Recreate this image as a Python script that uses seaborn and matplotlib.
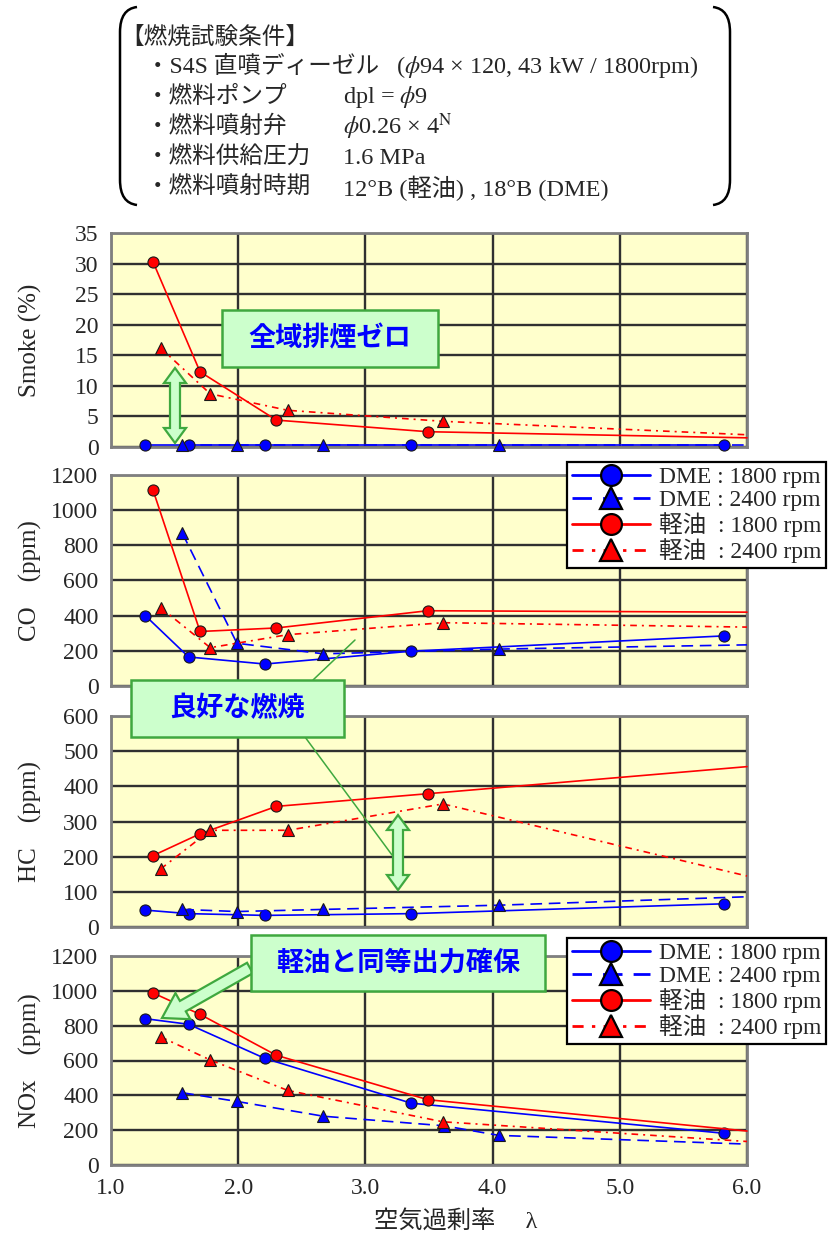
import matplotlib
matplotlib.use("Agg")
import matplotlib.pyplot as plt
import matplotlib.transforms as mtransforms
from matplotlib.patches import Rectangle, Polygon, FancyArrow, PathPatch
from matplotlib.path import Path
from matplotlib.lines import Line2D
import seaborn as sns

sns.set_theme(style="white")
plt.rcParams["font.family"] = ["Liberation Serif", "Noto Sans CJK JP"]
plt.rcParams["mathtext.fontset"] = "stix"
plt.rcParams["axes.unicode_minus"] = False

# ---- data: excess air ratio λ per series (a trailing unmarked entry is the line end) ----
LAM_DME_1800 = [1.27, 1.61, 2.21, 3.36, 5.82]
LAM_DME_2400 = [1.56, 1.99, 2.67, 4.05, 6.00]
LAM_DME_2400_NOX = [1.56, 1.99, 2.67, 3.62, 4.05, 6.00]
LAM_OIL_1800 = [1.33, 1.70, 2.30, 3.49, 6.00]
LAM_OIL_2400 = [1.39, 1.78, 2.39, 3.61, 6.00]

SMOKE_DME_1800 = [0.3, 0.3, 0.3, 0.3, 0.3]
SMOKE_DME_2400 = [0.3, 0.3, 0.3, 0.3, 0.3]
SMOKE_OIL_1800 = [30.3, 12.3, 4.4, 2.5, 1.5]
SMOKE_OIL_2400 = [16.2, 8.7, 6.0, 4.2, 2.0]

CO_DME_1800 = [400, 165, 125, 198, 285]
CO_DME_2400 = [870, 243, 183, 210, 234]
CO_OIL_1800 = [1115, 310, 330, 428, 420]
CO_OIL_2400 = [446, 218, 292, 360, 335]

HC_DME_1800 = [48, 38, 33, 38, 66]
HC_DME_2400 = [50, 44, 50, 62, 86]
HC_OIL_1800 = [203, 265, 343, 379, 456]
HC_OIL_2400 = [165, 275, 275, 350, 145]

NOX_DME_1800 = [840, 808, 612, 355, 182]
NOX_DME_2400 = [415, 365, 280, 225, 170, 120]
NOX_OIL_1800 = [988, 865, 630, 375, 195]
NOX_OIL_2400 = [736, 603, 428, 248, 135]

PANEL_LABELS = ["Smoke (%)", "CO\u3000(ppm)", "HC\u3000(ppm)", "NOx\u3000(ppm)"]
PANEL_YMAX = [35, 1200, 600, 1200]
PANEL_YSTEP = [5, 200, 100, 200]
X_TICKS = [1.0, 2.0, 3.0, 4.0, 5.0, 6.0]
X_TICK_LABELS = ["1.0", "2.0", "3.0", "4.0", "5.0", "6.0"]
LEGEND_LABELS = ["DME : 1800 rpm", "DME : 2400 rpm", "軽油  : 1800 rpm", "軽油  : 2400 rpm"]

CONDITIONS = [
    ("・S4S 直噴ディーゼル", r"($\phi$94 × 120, 43 kW / 1800rpm)"),
    ("・燃料ポンプ", r"dpl = $\phi$9"),
    ("・燃料噴射弁", r"$\phi$0.26 × 4$^{\rm N}$"),
    ("・燃料供給圧力", "1.6 MPa"),
    ("・燃料噴射時期", "12°B (軽油) , 18°B (DME)"),
]

W, H = 837, 1233
fig = plt.figure(figsize=(W / 100, H / 100), dpi=100)
fig.patch.set_facecolor("white")
# pixel coordinates measured from the top-left corner
px = mtransforms.Affine2D().scale(1 / W, -1 / H).translate(0, 1) + fig.transFigure

BLUE = "#0000FF"
RED = "#FF0000"
GREEN_FILL = "#CCFFCC"
GREEN_EDGE = "#3FA83F"
DASH_BLUE = (0, (7, 4))
DASH_RED = (0, (4, 3, 1.2, 3))

AX_LEFT, AX_RIGHT = 111, 747
PANEL_ROWS = [(233, 447), (475, 686), (716, 927), (956, 1165)]

series_style = {
    "dme18": dict(color=BLUE, marker="o", linestyle="-", ms=8),
    "dme24": dict(color=BLUE, marker="^", linestyle=DASH_BLUE, ms=9),
    "oil18": dict(color=RED, marker="o", linestyle="-", ms=8),
    "oil24": dict(color=RED, marker="^", linestyle=DASH_RED, ms=9),
}

panel_data = [
    [("dme18", LAM_DME_1800, SMOKE_DME_1800, 5), ("dme24", LAM_DME_2400, SMOKE_DME_2400, 4),
     ("oil18", LAM_OIL_1800, SMOKE_OIL_1800, 4), ("oil24", LAM_OIL_2400, SMOKE_OIL_2400, 4)],
    [("dme18", LAM_DME_1800, CO_DME_1800, 5), ("dme24", LAM_DME_2400, CO_DME_2400, 4),
     ("oil18", LAM_OIL_1800, CO_OIL_1800, 4), ("oil24", LAM_OIL_2400, CO_OIL_2400, 4)],
    [("dme18", LAM_DME_1800, HC_DME_1800, 5), ("dme24", LAM_DME_2400, HC_DME_2400, 4),
     ("oil18", LAM_OIL_1800, HC_OIL_1800, 4), ("oil24", LAM_OIL_2400, HC_OIL_2400, 4)],
    [("dme18", LAM_DME_1800, NOX_DME_1800, 5), ("dme24", LAM_DME_2400_NOX, NOX_DME_2400, 5),
     ("oil18", LAM_OIL_1800, NOX_OIL_1800, 4), ("oil24", LAM_OIL_2400, NOX_OIL_2400, 4)],
]

axes = []
for i, (top, bottom) in enumerate(PANEL_ROWS):
    ax = fig.add_axes([AX_LEFT / W, 1 - bottom / H, (AX_RIGHT - AX_LEFT) / W, (bottom - top) / H])
    ax.set_facecolor("#FFFFCC")
    for key, lam, vals, n_marked in panel_data[i]:
        st = series_style[key]
        sns.lineplot(x=lam, y=vals, ax=ax, color=st["color"], marker=st["marker"],
                     markersize=st["ms"], markeredgecolor="#1a1a1a", markeredgewidth=0.8,
                     linestyle=st["linestyle"], linewidth=1.2, markevery=list(range(n_marked)),
                     legend=False, sort=False, estimator=None, clip_on=False, zorder=3)
    ax.set_xlim(1.0, 6.0)
    ax.set_ylim(0, PANEL_YMAX[i])
    ax.set_yticks(list(range(0, PANEL_YMAX[i] + 1, PANEL_YSTEP[i])))
    ax.set_xticks(X_TICKS)
    ax.set_xticklabels(X_TICK_LABELS)
    ax.grid(True, color="#303030", linewidth=1.7)
    ax.set_axisbelow(True)
    for sp in ax.spines.values():
        sp.set_color("#7f7f7f")
        sp.set_linewidth(2.0)
        sp.set_visible(True)
    ax.tick_params(axis="y", length=0, pad=9, labelsize=17)
    ax.tick_params(axis="x", length=0, pad=9, labelsize=17, labelbottom=(i == 3))
    ax.set_xlabel("")
    ax.set_ylabel(PANEL_LABELS[i], fontsize=18)
    ax.yaxis.set_label_coords(-0.108, 0.5)
    axes.append(ax)


def legend_handles():
    hs = []
    for key in ["dme18", "dme24", "oil18", "oil24"]:
        st = series_style[key]
        hs.append(Line2D([], [], color=st["color"], linestyle=st["linestyle"], linewidth=2.0,
                         marker=st["marker"], markersize=15 if st["marker"] == "o" else 16,
                         markeredgecolor="black", markeredgewidth=1.6))
    return hs


for ax, y_top in [(axes[1], 462), (axes[3], 938)]:
    leg = ax.legend(legend_handles(), LEGEND_LABELS, loc="upper left",
                    bbox_to_anchor=(567, y_top), bbox_transform=px, fontsize=17,
                    handlelength=3.3, handletextpad=0.4, borderpad=0.2, labelspacing=0.05,
                    frameon=True, fancybox=False, framealpha=1, borderaxespad=0)
    leg.get_frame().set_edgecolor("black")
    leg.get_frame().set_linewidth(1.6)
    leg.set_zorder(20)

fig.text(374, 1221, "空気過剰率\u3000 λ", transform=px, ha="left", va="center", fontsize=17.5)

# ---- test condition block ----
fig.text(120, 38, "【燃焼試験条件】", transform=px, ha="left", va="center", fontsize=17)
row_y = [67, 97, 127, 158, 188]
for (label, value), y in zip(CONDITIONS, row_y):
    fig.text(146, y, label, transform=px, ha="left", va="center", fontsize=17)
    vx = 396 if label.startswith("・S4S") else 343
    fig.text(vx, y, value, transform=px, ha="left", va="center", fontsize=17.5)

left_br = Path([(137, 7), (120, 9), (120, 32), (120, 180), (120, 203), (137, 205)],
               [Path.MOVETO, Path.CURVE3, Path.CURVE3, Path.LINETO, Path.CURVE3, Path.CURVE3])
right_br = Path([(850 - x, y) for x, y in left_br.vertices], left_br.codes)
for p in (left_br, right_br):
    fig.add_artist(PathPatch(p, fc="none", ec="black", lw=1.8, transform=px, zorder=10))


# ---- callouts ----
def callout(x0, y0, x1, y1, text):
    fig.add_artist(Rectangle((x0, y0), x1 - x0, y1 - y0, transform=px, fc=GREEN_FILL,
                             ec=GREEN_EDGE, lw=1.8, zorder=12))
    fig.text((x0 + x1) / 2, (y0 + y1) / 2, text, transform=px, ha="center", va="center",
             fontsize=19.5, fontweight="bold", color=BLUE, family=["Noto Sans CJK JP"], zorder=13)


def double_arrow(x, y1, y2, hw=11, sw=5, hl=15):
    pts = [(x, y1), (x + hw, y1 + hl), (x + sw, y1 + hl), (x + sw, y2 - hl), (x + hw, y2 - hl),
           (x, y2), (x - hw, y2 - hl), (x - sw, y2 - hl), (x - sw, y1 + hl), (x - hw, y1 + hl)]
    fig.add_artist(Polygon(pts, closed=True, transform=px, fc=GREEN_FILL, ec=GREEN_EDGE,
                           lw=1.6, zorder=11))


callout(222, 310, 438, 367, "全域排煙ゼロ")
double_arrow(175, 368, 443)

fig.add_artist(Line2D([355, 313], [640, 680], transform=px, color=GREEN_EDGE, lw=1.1, zorder=11))
fig.add_artist(Line2D([305, 392], [737, 855], transform=px, color=GREEN_EDGE, lw=1.1, zorder=11))
callout(131, 680, 344, 737, "良好な燃焼")
double_arrow(398, 815, 890)

callout(251, 935, 545, 991, "軽油と同等出力確保")
fig.add_artist(FancyArrow(250, 968, -88, 50, width=12, head_width=30, head_length=24,
                          length_includes_head=True, transform=px, fc=GREEN_FILL,
                          ec=GREEN_EDGE, lw=1.6, zorder=11))

fig.savefig("out.png", dpi=100)
